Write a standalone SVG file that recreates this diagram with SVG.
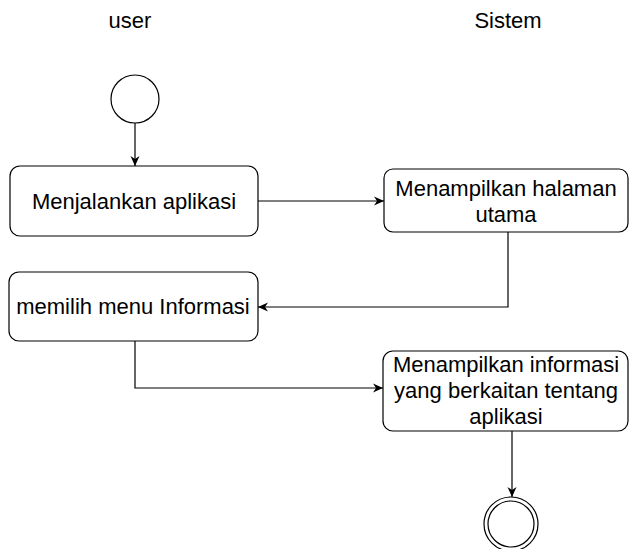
<svg xmlns="http://www.w3.org/2000/svg" width="629" height="549" viewBox="0 0 629 549">
  <style>
    .lbl { font-family: "Liberation Sans", Arial, sans-serif; font-size: 22px; fill: #000; text-anchor: middle; }
    .box { fill: #fff; stroke: #000; stroke-width: 1.2; }
    .edge { fill: none; stroke: #000; stroke-width: 1.2; }
  </style>
  <defs>
    <marker id="arrow" markerUnits="userSpaceOnUse" markerWidth="12" markerHeight="10" refX="10" refY="5" orient="auto">
      <path d="M0,0.5 L10,5 L0,9.5 L3,5 Z" fill="#000"/>
    </marker>
  </defs>
  <rect width="629" height="549" fill="#fff"/>

  <g id="lane-user"><text class="lbl" x="130" y="28">user</text></g>
  <g id="lane-sistem"><text class="lbl" x="508" y="28">Sistem</text></g>

  <g id="connectors">
    <path class="edge" d="M135,123 L135,166" marker-end="url(#arrow)"/>
    <path class="edge" d="M258,201 L384,201" marker-end="url(#arrow)"/>
    <path class="edge" d="M508,232 L508,307 L258,307" marker-end="url(#arrow)"/>
    <path class="edge" d="M135,341 L135,388 L383,388" marker-end="url(#arrow)"/>
    <path class="edge" d="M512,431 L512,497" marker-end="url(#arrow)"/>
  </g>

  <g id="start">
    <circle cx="135" cy="99" r="24" fill="#fff" stroke="#000" stroke-width="1.2"/>
  </g>

  <g id="menjalankan">
    <rect class="box" x="10" y="166" width="248" height="70" rx="10"/>
    <text class="lbl" x="134" y="209">Menjalankan aplikasi</text>
  </g>

  <g id="halaman-utama">
    <rect class="box" x="384" y="169" width="244" height="63" rx="9"/>
    <text class="lbl" x="506" y="196">Menampilkan halaman</text>
    <text class="lbl" x="506" y="222">utama</text>
  </g>

  <g id="memilih-menu">
    <rect class="box" x="9" y="272" width="249" height="69" rx="10"/>
    <text class="lbl" x="133" y="314">memilih menu Informasi</text>
  </g>

  <g id="tampil-informasi">
    <rect class="box" x="383" y="351" width="245" height="80" rx="10"/>
    <text class="lbl" x="506" y="372">Menampilkan informasi</text>
    <text class="lbl" x="506" y="398">yang berkaitan tentang</text>
    <text class="lbl" x="506" y="424">aplikasi</text>
  </g>

  <g id="end">
    <circle cx="511" cy="524" r="27" fill="#fff" stroke="#000" stroke-width="1.2"/>
    <circle cx="511" cy="524" r="23" fill="none" stroke="#000" stroke-width="1.2"/>
  </g>
</svg>
